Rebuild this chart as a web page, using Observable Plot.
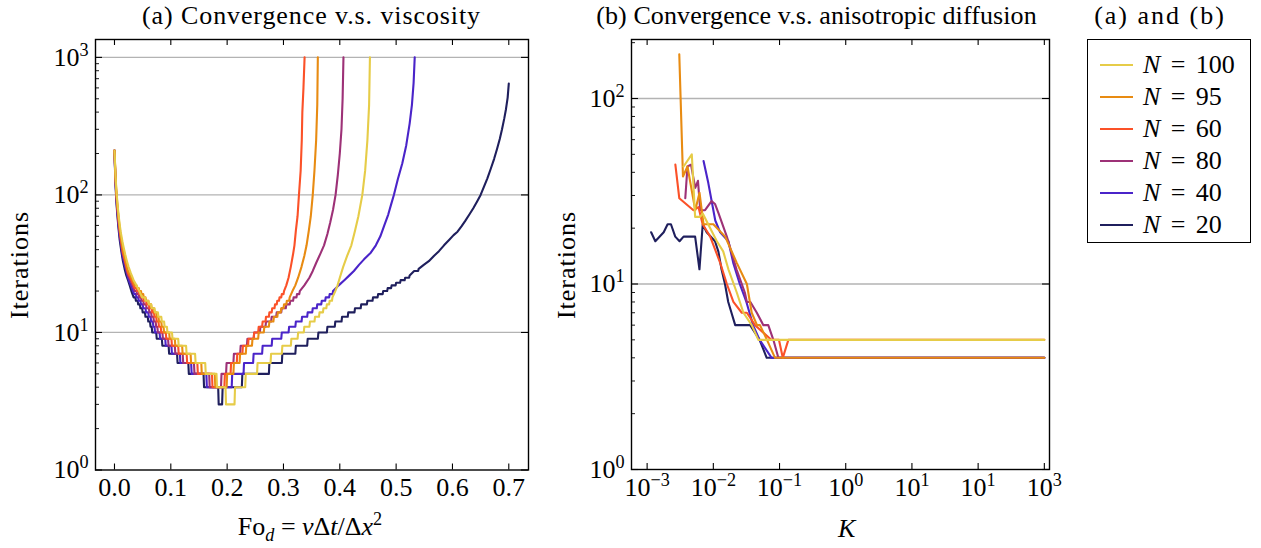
<!DOCTYPE html>
<html><head><meta charset="utf-8">
<script src="https://cdn.jsdelivr.net/npm/d3@7"></script>
<script src="https://cdn.jsdelivr.net/npm/@observablehq/plot@0.6"></script>
<style>
body{margin:0;background:#fff;}
#root{position:relative;width:1261px;height:548px;overflow:hidden;font-family:"Liberation Serif",serif;color:#000;background:#fff;}
#root svg{position:absolute;top:0;}
.abs{position:absolute;white-space:nowrap;line-height:26px;font-size:26px;}
.ctr{transform:translate(-50%,-50%);}
.title{letter-spacing:0.9px;}
.ylab{transform:translate(-50%,-50%) rotate(-90deg);letter-spacing:1px;}
sub,sup{font-size:70%;line-height:0;}
.leg-line{position:absolute;height:0;border-top:2.2px solid;width:33px;}
</style></head><body><div id="root"></div>
<script>
// ---------------- data ----------------
const seriesN = [100, 95, 60, 80, 40, 20];
const seriesColors = ["#e6cc48", "#e88b12", "#fb5128", "#9d3177", "#4a24c9", "#1f1f5d"];
const drawOrder = [20, 40, 80, 60, 95, 100];

// (a) Convergence vs viscosity: [Fo_d, iterations]
const visc20 = [[0,210],[0.001,150],[0.002,115],[0.003,95],[0.004,82],[0.005,72],[0.007,58],[0.009,48],[0.011,42],[0.013,37],[0.015,33],[0.018,29],[0.021,26],[0.024,24],[0.027,22],[0.030,20],[0.034,18],[0.038,17],[0.042,16],[0.046,15],[0.050,14],[0.055,13],[0.060,12],[0.064,11],[0.067,10],[0.075,9],[0.085,8],[0.097,7],[0.112,6],[0.132,5],[0.159,4],[0.185,3],[0.192,4],[0.227,5],[0.275,6],[0.298,7],[0.322,8],[0.343,9],[0.362,10],[0.378,11],[0.392,12],[0.404,13],[0.415,14],[0.427,15],[0.438,16],[0.449,17],[0.459,18],[0.468,19],[0.477,20],[0.485,21],[0.492,22],[0.500,23],[0.508,24],[0.516,25],[0.524,26],[0.532,28],[0.540,29],[0.549,31],[0.558,33],[0.567,36],[0.576,39],[0.585,43],[0.594,47],[0.602,51],[0.609,54],[0.616,59],[0.623,65],[0.630,72],[0.637,80],[0.644,90],[0.650,100],[0.656,115],[0.662,132],[0.668,155],[0.674,183],[0.679,215],[0.684,255],[0.688,300],[0.692,360],[0.695,420],[0.698,510],[0.700,644]];
const visc40 = [[0,210],[0.001,155],[0.002,120],[0.003,100],[0.004,86],[0.005,76],[0.007,61],[0.009,51],[0.011,45],[0.013,39],[0.015,35],[0.018,31],[0.021,28],[0.024,25],[0.027,23],[0.031,21],[0.035,19],[0.039,18],[0.043,17],[0.047,16],[0.051,15],[0.056,14],[0.061,13],[0.065,12],[0.069,11],[0.072,10],[0.081,9],[0.091,8],[0.102,7],[0.117,6],[0.137,5],[0.164,4],[0.209,5],[0.230,6],[0.247,7],[0.263,8],[0.280,9],[0.297,10],[0.310,11],[0.322,12],[0.333,13],[0.343,14],[0.352,15],[0.360,16],[0.368,17],[0.375,18],[0.382,19],[0.388,20],[0.398,22],[0.408,24],[0.417,26],[0.425,28],[0.434,31],[0.443,34],[0.449,36],[0.455,38],[0.464,43],[0.472,50],[0.479,60],[0.486,72],[0.491,85],[0.496,100],[0.503,130],[0.511,170],[0.518,230],[0.524,330],[0.528,450],[0.531,650],[0.533,1000]];
const visc80 = [[0,210],[0.001,158],[0.002,124],[0.003,104],[0.004,90],[0.005,80],[0.007,64],[0.009,54],[0.011,47],[0.013,41],[0.015,37],[0.018,33],[0.021,29],[0.024,26],[0.028,24],[0.032,22],[0.036,20],[0.040,19],[0.044,18],[0.048,17],[0.052,16],[0.057,15],[0.062,14],[0.066,13],[0.070,12],[0.074,11],[0.077,10],[0.086,9],[0.096,8],[0.108,7],[0.122,6],[0.142,5],[0.169,4],[0.190,5],[0.199,6],[0.212,7],[0.224,8],[0.236,9],[0.248,10],[0.259,11],[0.269,12],[0.279,13],[0.288,14],[0.297,15],[0.305,16],[0.312,17],[0.318,18],[0.324,19],[0.329,20],[0.337,22],[0.346,25],[0.352,28],[0.358,32],[0.365,37],[0.372,43],[0.378,52],[0.383,63],[0.388,78],[0.3925,100],[0.3965,140],[0.400,200],[0.403,300],[0.405,500],[0.4065,1000]];
const visc60 = [[0,210],[0.001,162],[0.002,128],[0.003,107],[0.004,93],[0.005,83],[0.007,67],[0.009,56],[0.011,49],[0.013,43],[0.015,38],[0.018,34],[0.021,30],[0.024,27],[0.028,25],[0.032,23],[0.036,21],[0.040,20],[0.044,19],[0.048,18],[0.052,17],[0.057,16],[0.062,15],[0.067,14],[0.071,13],[0.075,12],[0.079,11],[0.083,10],[0.092,9],[0.102,8],[0.114,7],[0.129,6],[0.148,5],[0.174,4],[0.196,5],[0.207,6],[0.218,7],[0.228,8],[0.238,9],[0.248,10],[0.256,11],[0.263,12],[0.269,13],[0.275,14],[0.280,15],[0.285,16],[0.289,17],[0.293,18],[0.297,19],[0.301,20],[0.305,22],[0.309,25],[0.313,30],[0.317,37],[0.3195,43],[0.322,55],[0.325,70],[0.3275,100],[0.3305,150],[0.3325,250],[0.3335,400],[0.3355,600],[0.3375,1000]];
const visc95 = [[0,210],[0.001,166],[0.002,132],[0.003,111],[0.004,97],[0.005,86],[0.007,70],[0.009,59],[0.011,51],[0.013,45],[0.015,40],[0.018,35],[0.021,31],[0.024,28],[0.028,26],[0.032,24],[0.036,22],[0.040,21],[0.044,20],[0.048,19],[0.052,18],[0.056,17],[0.061,16],[0.066,15],[0.071,14],[0.075,13],[0.079,12],[0.084,11],[0.088,10],[0.098,9],[0.108,8],[0.121,7],[0.136,6],[0.155,5],[0.179,4],[0.200,5],[0.212,6],[0.223,7],[0.234,8],[0.245,9],[0.256,10],[0.266,11],[0.275,12],[0.283,13],[0.290,14],[0.296,15],[0.301,16],[0.306,17],[0.311,18],[0.316,20],[0.321,22],[0.326,25],[0.332,30],[0.337,36],[0.341,43],[0.345,55],[0.3485,70],[0.352,100],[0.355,150],[0.358,250],[0.360,450],[0.361,1000]];
const visc100 = [[0,210],[0.001,170],[0.002,135],[0.003,115],[0.004,100],[0.005,90],[0.007,73],[0.009,62],[0.011,54],[0.014,46],[0.016,42],[0.019,37],[0.022,33],[0.025,30],[0.029,27],[0.034,24],[0.039,22],[0.044,20],[0.049,18],[0.055,17],[0.061,16],[0.066,15],[0.072,14],[0.078,13],[0.084,12],[0.089,11],[0.094,10],[0.103,9],[0.114,8],[0.128,7],[0.144,6],[0.162,5],[0.182,4],[0.198,3],[0.214,4],[0.233,5],[0.254,6],[0.278,7],[0.298,8],[0.314,9],[0.326,10],[0.337,11],[0.347,12],[0.356,13],[0.364,14],[0.371,15],[0.377,16],[0.382,17],[0.387,18],[0.392,20],[0.396,22],[0.400,25],[0.406,30],[0.413,36],[0.4205,43],[0.427,55],[0.433,70],[0.440,100],[0.445,150],[0.449,250],[0.452,450],[0.4535,1000]];

// (b) Convergence vs anisotropic diffusion: [K, iterations]
const diff20 = [[0.00115,19],[0.00133,17],[0.00178,19],[0.00204,21],[0.00229,21],[0.00266,18],[0.00309,17],[0.00355,18],[0.00531,18],[0.00617,12],[0.00692,21],[0.00794,19],[0.0106,17],[0.0119,15],[0.0133,12],[0.015,10],[0.0168,8],[0.0188,7],[0.0214,6],[0.036,6],[0.05,5],[0.064,4],[1000,4]];
const diff40 = [[0.00712,46],[0.0084,35],[0.0107,22],[0.0127,19],[0.0169,17],[0.02,13],[0.0251,10],[0.0316,8],[0.0398,6],[0.05,5],[0.0759,4],[1000,4]];
const diff80 = [[0.00377,29],[0.00407,43],[0.0046,44],[0.00533,33],[0.00586,36],[0.00635,25],[0.0075,25],[0.0094,28],[0.0106,27],[0.012,24],[0.016,18],[0.0224,12],[0.0299,9],[0.0321,8],[0.0363,8],[0.0454,7],[0.057,6],[0.0676,6],[0.0807,5],[0.096,4],[1000,4]];
const diff60 = [[0.00267,44],[0.00306,29],[0.00501,25],[0.00596,26],[0.0069,21],[0.00897,18],[0.0127,13],[0.016,10],[0.0201,8],[0.0269,7],[0.0321,7],[0.0427,6],[0.075,5],[0.098,5],[0.112,4],[0.136,5],[1000,5]];
const diff95 = [[0.00306,173],[0.00348,38],[0.00407,43],[0.00533,25],[0.00619,31],[0.00711,21],[0.01,21],[0.0151,18],[0.0226,13],[0.0321,10],[0.038,7],[0.0457,6],[0.0507,6],[0.0646,5],[0.0855,4],[1000,4]];
const diff100 = [[0.00355,43],[0.00473,50],[0.00531,23],[0.0063,23],[0.00692,24],[0.0113,17],[0.0141,15],[0.0169,12],[0.0226,9],[0.0285,7],[0.038,6],[0.0479,5],[1000,5]];

// ticks and labels
const foTicks = [0, 0.1, 0.2, 0.3, 0.4, 0.5, 0.6, 0.7];
const foTickLabels = ["0.0", "0.1", "0.2", "0.3", "0.4", "0.5", "0.6", "0.7"];
const itTicksA = [1, 10, 100, 1000];
const itTickLabelsA = ["10^0", "10^1", "10^2", "10^3"];
const kTicks = [1e-3, 1e-2, 1e-1, 1, 10, 100, 1000];
const kTickLabels = ["10^\u22123", "10^\u22122", "10^\u22121", "10^0", "10^1", "10^1", "10^3"];
const itTicksB = [1, 10, 100];
const itTickLabelsB = ["10^0", "10^1", "10^2"];

// ---------------- build ----------------
// Integer iteration counts: where the count changes by exactly one, the
// previous count holds until just before the next sample (a plateau).
function withPlateaus(pts) {
  const out = [];
  for (let i = 0; i < pts.length; i++) {
    const [x, y] = pts[i];
    if (i > 0) {
      const [px, py] = pts[i - 1];
      if (Math.abs(y - py) === 1 && x - px > 0.0015) out.push([x - 0.0009, py]);
    }
    out.push([x, y]);
  }
  return out;
}
const viscBy = {20: visc20, 40: visc40, 80: visc80, 60: visc60, 95: visc95, 100: visc100};
const diffBy = {20: diff20, 40: diff40, 80: diff80, 60: diff60, 95: diff95, 100: diff100};
const rowsA = [], rowsB = [];
for (const n of drawOrder) {
  for (const [x, y] of withPlateaus(viscBy[n])) rowsA.push({n, x, y});
  for (const [x, y] of diffBy[n]) rowsB.push({n, x, y});
}
function minorTicks(lo, hi) {
  const out = [];
  for (let e = lo; e < hi; e++) for (let m = 2; m <= 9; m++) out.push(m * Math.pow(10, e));
  return out;
}
const root = document.getElementById("root");
const FONT = "Liberation Serif";

function panel({width, left, mL, mR, mT, mB, xOpts, yOpts, rows, xTicks, xLabels, yTicks, yLabels, yMinor}) {
  const H = 548;
  const iw = width - mL - mR, ih = H - mT - mB;
  const svg = Plot.plot({
    width, height: H, marginLeft: mL, marginRight: mR, marginTop: mT, marginBottom: mB,
    x: {...xOpts, axis: null},
    y: {...yOpts, axis: null},
    color: {domain: seriesN, range: seriesColors},
    style: {fontFamily: FONT, fontSize: "26px", background: "transparent", overflow: "visible"},
    marks: [
      Plot.ruleY(yTicks.filter(d => d > 1), {y: d => d, stroke: "#b3b3b3", strokeWidth: 1.3}),
      Plot.line(rows, {x: "x", y: "y", z: "n", stroke: "n", strokeWidth: 2.1, curve: "linear"}),
      Plot.frame({stroke: "#000", strokeWidth: 1.4}),
      Plot.tickX(xTicks, {x: d => d, insetTop: ih - 6, stroke: "#000", strokeWidth: 1.1}),
      Plot.tickX(xTicks, {x: d => d, insetBottom: ih - 6, stroke: "#000", strokeWidth: 1.1}),
      Plot.tickY(yTicks, {y: d => d, insetRight: iw - 7, stroke: "#000", strokeWidth: 1.1}),
      Plot.tickY(yTicks, {y: d => d, insetLeft: iw - 7, stroke: "#000", strokeWidth: 1.1}),
      Plot.tickY(yMinor, {y: d => d, insetRight: iw - 4, stroke: "#000", strokeWidth: 0.9}),
      Plot.text(xTicks, {x: d => d, text: (d, i) => xLabels[i], frameAnchor: "bottom", dy: 26, fontSize: 26, fill: "#000"}),
      Plot.text(yTicks, {y: d => d, text: (d, i) => yLabels[i], frameAnchor: "left", textAnchor: "end", dx: -7, fontSize: 26, fill: "#000"})
    ]
  });
  svg.style.left = left + "px";
  svg.querySelectorAll("text").forEach(t => {
    const s = t.textContent;
    const i = s.indexOf("^");
    if (i < 0) return;
    t.textContent = s.slice(0, i);
    const sp = document.createElementNS("http://www.w3.org/2000/svg", "tspan");
    sp.setAttribute("dy", "-0.55em");
    sp.style.fontSize = "70%";
    sp.textContent = s.slice(i + 1);
    t.appendChild(sp);
  });
  root.appendChild(svg);
}

panel({
  width: 545, left: 0, mL: 95, mR: 17, mT: 39, mB: 78.5,
  xOpts: {domain: [-0.0337, 0.735]},
  yOpts: {type: "log", domain: [1, 1349]},
  rows: rowsA,
  xTicks: foTicks, xLabels: foTickLabels,
  yTicks: itTicksA, yLabels: itTickLabelsA, yMinor: minorTicks(0, 3)
});
panel({
  width: 530, left: 545, mL: 86, mR: 26, mT: 39, mB: 79,
  xOpts: {type: "log", domain: [Math.pow(10, -3.236), Math.pow(10, 3.078)]},
  yOpts: {type: "log", domain: [1, 208]},
  rows: rowsB,
  xTicks: kTicks, xLabels: kTickLabels,
  yTicks: itTicksB, yLabels: itTickLabelsB, yMinor: minorTicks(0, 2).concat([200])
});

function addText(html, x, y, cls) {
  const d = document.createElement("div");
  d.className = "abs " + cls;
  d.style.left = x + "px";
  d.style.top = y + "px";
  d.innerHTML = html;
  root.appendChild(d);
  return d;
}
addText("(a) Convergence v.s. viscosity", 311.5, 16, "ctr title");
const tb = addText("(b) Convergence v.s. anisotropic diffusion", 816.5, 16, "ctr title");
tb.style.letterSpacing = "0.1px";
const tl = addText("(a) and (b)", 1160, 16, "ctr title");
tl.style.letterSpacing = "2px";
addText("Iterations", 20, 265, "ylab");
addText("Iterations", 567, 265, "ylab");
addText("Fo<sub><i>d</i></sub> = <i>\u03bd</i>\u0394<i>t</i>/\u0394<i>x</i><sup>2</sup>", 310, 527, "ctr");
addText("<i>K</i>", 846.7, 529, "ctr");

// legend
const box = document.createElement("div");
box.style.cssText = "position:absolute;left:1087px;top:39px;width:164px;height:204px;border:1.3px solid #000;box-sizing:border-box;";
root.appendChild(box);
seriesN.forEach((n, i) => {
  const cy = 65 + i * 32;
  const l = document.createElement("div");
  l.className = "leg-line";
  l.style.left = "1100px";
  l.style.top = (cy - 1) + "px";
  l.style.borderColor = seriesColors[i];
  root.appendChild(l);
  const t = addText("<i>N</i>&#8201;&#8201;=&#8201;&#8201;" + n, 1143, cy - 13, "");
  t.style.wordSpacing = "2px";
});
</script></body></html>
